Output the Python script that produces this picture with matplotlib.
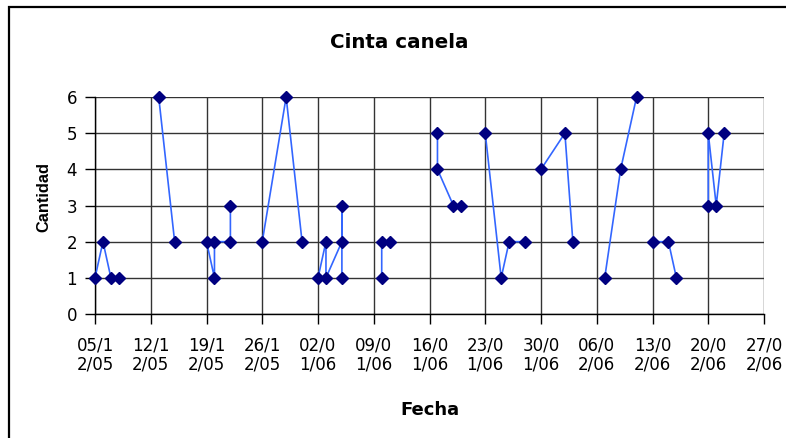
import numpy as np
import matplotlib
matplotlib.use("Agg")
import matplotlib.pyplot as plt
import matplotlib.dates as mdates
from matplotlib.patches import Rectangle
import datetime as dt

# ---- data (gaps marked with None) ----
fechas = ["2005-12-05", "2005-12-06", "2005-12-07", "2005-12-08", None,
          "2005-12-13", "2005-12-15", None,
          "2005-12-19", "2005-12-20", "2005-12-20", "2005-12-22", "2005-12-22", None,
          "2005-12-26", "2005-12-29", "2005-12-31", None,
          "2006-01-02", "2006-01-03", "2006-01-03", "2006-01-05", "2006-01-05", "2006-01-05", None,
          "2006-01-10", "2006-01-10", "2006-01-11", None,
          "2006-01-17", "2006-01-17", "2006-01-19", "2006-01-20", None,
          "2006-01-23", "2006-01-25", "2006-01-26", "2006-01-28", None,
          "2006-01-30", "2006-02-02", "2006-02-03", None,
          "2006-02-07", "2006-02-09", "2006-02-11", None,
          "2006-02-13", "2006-02-15", "2006-02-16", None,
          "2006-02-20", "2006-02-20", "2006-02-21", "2006-02-22"]
cantidad = [1, 2, 1, 1, None,
            6, 2, None,
            2, 1, 2, 2, 3, None,
            2, 6, 2, None,
            1, 2, 1, 2, 3, 1, None,
            1, 2, 2, None,
            5, 4, 3, 3, None,
            5, 1, 2, 2, None,
            4, 5, 2, None,
            1, 4, 6, None,
            2, 2, 1, None,
            3, 5, 3, 5]

tick_start = "2005-12-05"
tick_end = "2006-02-27"
y_ticks = [0, 1, 2, 3, 4, 5, 6]

title = "Cinta canela"
xlabel = "Fecha"
ylabel = "Cantidad"

# ---- build ----
plt.rcParams['font.family'] = ['DejaVu Sans']

x = np.array([mdates.date2num(dt.datetime.strptime(f, "%Y-%m-%d")) if f else np.nan
              for f in fechas])
y = np.array([v if v is not None else np.nan for v in cantidad], dtype=float)

t0 = dt.datetime.strptime(tick_start, "%Y-%m-%d")
t1 = dt.datetime.strptime(tick_end, "%Y-%m-%d")
tick_dates = []
d = t0
while d <= t1:
    tick_dates.append(d)
    d += dt.timedelta(days=7)
tick_pos = [mdates.date2num(t) for t in tick_dates]
tick_labels = []
for t in tick_dates:
    s = t.strftime("%d/%m/%y")
    tick_labels.append(s[:4] + "\n" + s[4:])

W, H = 786, 438
fig = plt.figure(figsize=(W / 100, H / 100), dpi=100)
ax = fig.add_axes([95 / W, 1 - 314 / H, (764 - 95) / W, (314 - 97) / H])

ax.plot(x, y, color="#3366FF", lw=1.2, marker="D", ms=5.8,
        markerfacecolor="#000080", markeredgecolor="#000080", clip_on=False, zorder=3)

ax.set_xlim(tick_pos[0], tick_pos[-1])
ax.set_ylim(0, 6)
ax.set_xticks(tick_pos)
ax.set_xticklabels(tick_labels, fontsize=12, linespacing=1.1)
ax.set_yticks(y_ticks)
ax.set_yticklabels([str(v) for v in y_ticks], fontsize=12)
ax.tick_params(axis="both", direction="out", length=7, width=1, color="black", pad=6)
ax.tick_params(axis="x", pad=9)

ax.grid(True, color="#333333", lw=1.0)
ax.set_axisbelow(True)
for s in ["top", "right"]:
    ax.spines[s].set_visible(False)
for s in ["left", "bottom"]:
    ax.spines[s].set_color("black")
    ax.spines[s].set_linewidth(1.0)

fig.text(399 / W, 1 - 42 / H, title, ha="center", va="center", fontsize=14.3, fontweight="bold")
fig.text(430 / W, 1 - 410 / H, xlabel, ha="center", va="center", fontsize=13, fontweight="bold")
fig.text(44 / W, 1 - 197 / H, ylabel, ha="center", va="center", fontsize=11.8,
         fontweight="bold", rotation=90, family=["Liberation Sans", "DejaVu Sans"])

fig.add_artist(Rectangle((8.5 / W, -0.1), 1.2, 1 - 7 / H + 0.1, transform=fig.transFigure,
                         fill=False, edgecolor="black", lw=1.6))

fig.savefig("out.png", dpi=100)
